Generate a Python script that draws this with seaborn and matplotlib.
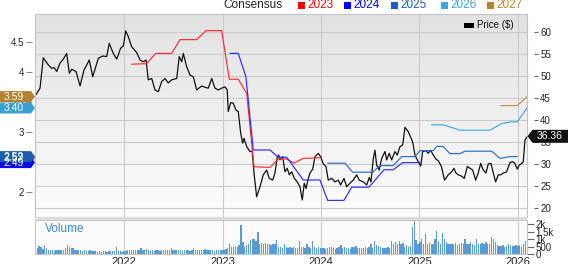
import numpy as np
import pandas as pd
import matplotlib
matplotlib.use("Agg")
import matplotlib.pyplot as plt
import seaborn as sns
from matplotlib.patches import Polygon, Rectangle
from matplotlib.colors import LinearSegmentedColormap
from matplotlib.ticker import FuncFormatter

sns.set_theme(style="white")
plt.rcParams["font.family"] = ["Liberation Sans", "DejaVu Sans"]

# ---------------- data (decimal years) ----------------
price_t = [2021.102, 2021.143, 2021.176, 2021.227, 2021.262, 2021.285, 2021.313, 2021.346, 2021.380, 2021.414,
           2021.441, 2021.465, 2021.509, 2021.550, 2021.590, 2021.644, 2021.679, 2021.736, 2021.780, 2021.821,
           2021.847, 2021.888, 2021.923, 2021.963, 2021.990, 2022.014, 2022.041, 2022.075, 2022.126, 2022.160,
           2022.193, 2022.221, 2022.244, 2022.279, 2022.312, 2022.346, 2022.380, 2022.414, 2022.447, 2022.482,
           2022.533, 2022.559, 2022.584, 2022.600, 2022.634, 2022.668, 2022.702, 2022.736, 2022.787, 2022.821,
           2022.854, 2022.889, 2022.922, 2022.956, 2022.990, 2023.024, 2023.047, 2023.057, 2023.082, 2023.108,
           2023.136, 2023.159, 2023.184, 2023.204, 2023.217, 2023.245, 2023.278, 2023.301, 2023.319, 2023.346,
           2023.380, 2023.413, 2023.448, 2023.474, 2023.509, 2023.532, 2023.556, 2023.570, 2023.583, 2023.611,
           2023.634, 2023.657, 2023.678, 2023.702, 2023.729, 2023.759, 2023.786, 2023.810, 2023.830, 2023.848,
           2023.871, 2023.888, 2023.916, 2023.939, 2023.973, 2023.997, 2024.023, 2024.051, 2024.074, 2024.109,
           2024.142, 2024.176, 2024.200, 2024.234, 2024.261, 2024.295, 2024.328, 2024.363, 2024.389, 2024.430,
           2024.465, 2024.491, 2024.508, 2024.532, 2024.549, 2024.566, 2024.593, 2024.617, 2024.651, 2024.668,
           2024.694, 2024.719, 2024.752, 2024.776, 2024.803, 2024.831, 2024.854, 2024.888, 2024.932, 2024.956,
           2024.979, 2025.014, 2025.034, 2025.068, 2025.091, 2025.115, 2025.142, 2025.169, 2025.193, 2025.225,
           2025.256, 2025.294, 2025.329, 2025.352, 2025.373, 2025.396, 2025.430, 2025.457, 2025.488, 2025.515,
           2025.542, 2025.573, 2025.599, 2025.624, 2025.650, 2025.678, 2025.701, 2025.729, 2025.752, 2025.776,
           2025.803, 2025.827, 2025.854, 2025.888, 2025.922, 2025.949, 2025.972, 2025.996, 2026.016, 2026.041,
           2026.057, 2026.074, 2026.098]
price_v = [45.8, 47.3, 54.2, 52.6, 51.8, 52.0, 51.1, 53.0, 53.9, 55.2,
           50.7, 51.6, 51.1, 47.8, 51.4, 53.7, 49.9, 54.1, 54.6, 54.5,
           57.5, 55.2, 53.9, 56.4, 56.9, 60.3, 59.0, 56.7, 55.4, 53.7,
           53.3, 53.7, 49.2, 49.5, 46.9, 46.5, 48.8, 49.5, 48.5, 49.2,
           49.5, 54.5, 53.3, 55.2, 52.2, 50.3, 49.9, 46.9, 47.8, 47.5,
           47.3, 49.5, 47.3, 46.9, 47.3, 47.6, 46.9, 42.0, 44.0, 43.9,
           42.3, 42.0, 37.0, 34.8, 35.9, 34.0, 32.9, 32.9, 28.0, 22.6,
           24.9, 27.6, 28.7, 26.8, 26.4, 28.0, 31.7, 32.1, 31.0, 31.7,
           28.3, 29.1, 27.6, 28.3, 26.8, 26.0, 24.9, 21.9, 25.7, 24.5,
           26.8, 28.0, 28.9, 31.7, 32.5, 31.7, 30.1, 29.5, 26.4, 26.8,
           26.0, 26.4, 25.3, 26.8, 24.9, 25.7, 26.4, 27.6, 26.4, 26.0,
           25.3, 27.0, 26.0, 31.3, 33.2, 29.8, 28.7, 31.3, 32.9, 31.0,
           32.5, 31.0, 32.9, 32.1, 34.0, 34.4, 38.4, 37.4, 35.1, 32.1,
           31.0, 29.6, 32.9, 33.1, 32.5, 33.2, 32.1, 31.2, 30.8, 29.5,
           26.4, 27.6, 28.3, 29.1, 28.0, 27.6, 27.3, 26.8, 29.5, 29.1,
           28.7, 26.4, 28.0, 30.2, 28.7, 28.0, 30.1, 30.2, 28.0, 26.0,
           27.6, 27.6, 28.0, 28.3, 30.4, 30.6, 30.2, 28.9, 29.8, 30.2,
           30.6, 35.5, 36.36]

cons_2023_t = [2022.075, 2022.228, 2022.319, 2022.482, 2022.566, 2022.736, 2022.831, 2022.990, 2023.068,
               2023.159, 2023.245, 2023.319, 2023.481, 2023.566, 2023.651, 2023.725, 2023.820, 2023.990]
cons_2023_v = [4.13, 4.14, 4.31, 4.31, 4.54, 4.54, 4.69, 4.69, 3.88,
               3.88, 3.64, 2.42, 2.41, 2.55, 2.55, 2.48, 2.56, 2.57]
cons_2024_t = [2023.075, 2023.159, 2023.237, 2023.312, 2023.481, 2023.566, 2023.651, 2023.820, 2023.990,
               2024.068, 2024.234, 2024.312, 2024.488, 2024.641, 2024.735, 2024.831, 2025.007]
cons_2024_v = [4.31, 4.31, 3.92, 2.70, 2.70, 2.58, 2.58, 2.20, 2.20,
               1.86, 1.86, 2.08, 2.08, 2.37, 2.37, 2.49, 2.49]
cons_2025_t = [2024.068, 2024.244, 2024.322, 2024.526, 2024.600, 2024.735, 2024.821, 2024.956, 2025.007,
               2025.142, 2025.179, 2025.240, 2025.312, 2025.414, 2025.465, 2025.736, 2025.820, 2025.922, 2025.996]
cons_2025_v = [2.48, 2.48, 2.33, 2.33, 2.44, 2.44, 2.59, 2.59, 2.69,
               2.69, 2.76, 2.76, 2.64, 2.64, 2.68, 2.68, 2.56, 2.59, 2.59]
cons_2026_t = [2025.125, 2025.244, 2025.414, 2025.719, 2025.838, 2025.939, 2025.996, 2026.095]
cons_2026_v = [3.12, 3.12, 3.03, 3.03, 3.14, 3.17, 3.17, 3.40]
cons_2027_t = [2025.827, 2025.996, 2026.098]
cons_2027_v = [3.44, 3.44, 3.59]

vol_2021 = [380, 520, 450, 360, 600, 400, 300, 250, 280, 230, 260, 250, 280, 240, 300, 420, 640, 500, 380, 420,
            300, 260, 240, 250, 230, 280, 220, 230, 250, 180, 200, 170, 160, 190, 150, 170, 200, 160, 180, 220,
            170, 190, 450, 200, 230, 160, 180]
vol_2022 = [220, 260, 300, 280, 250, 300, 280, 240, 380, 300, 260, 350, 240, 220, 260, 230, 250, 280, 230, 260,
            300, 270, 240, 250, 380, 300, 260, 240, 280, 250, 230, 260, 240, 300, 230, 250, 420, 300, 260, 250,
            280, 300, 350, 260, 300, 280, 250, 230, 300, 260, 240, 280]
vol_2023 = [300, 350, 400, 650, 450, 500, 550, 480, 600, 1930, 840, 500, 600, 700, 950, 1000, 1020, 900, 1480, 700,
            730, 680, 750, 700, 650, 600, 700, 650, 950, 500, 450, 400, 700, 450, 420, 500, 400, 450, 380, 420,
            900, 450, 500, 400, 700, 450, 420, 860, 450, 400, 500, 420]
vol_2024 = [400, 380, 350, 420, 500, 450, 400, 350, 420, 450, 640, 420, 450, 400, 380, 350, 450, 500, 570, 400,
            420, 380, 400, 450, 400, 500, 680, 420, 900, 600, 550, 450, 400, 380, 420, 500, 400, 860, 700, 800,
            650, 900, 680, 750, 500, 600, 450, 550, 1860, 2200, 950, 700]
vol_2025 = [800, 1020, 700, 1320, 680, 750, 650, 700, 1000, 1550, 900, 700, 1410, 1020, 800, 700, 680, 650, 700, 750,
            600, 680, 720, 650, 1020, 700, 650, 800, 680, 600, 1020, 700, 650, 750, 680, 800, 700, 650, 1180, 1020,
            800, 600, 570, 550, 600, 500, 550, 680, 600, 520, 570, 600]
vol_2026 = [570, 620, 500, 650, 900]
vol_first_week = "2021-02-12"

years = [2022, 2023, 2024, 2025, 2026]
price_ticks = [20, 25, 30, 35, 40, 45, 50, 55, 60]
eps_ticks = [2, 2.5, 3, 3.5, 4, 4.5]
vol_ticks = [0, 500, 1000, 1500, 2000]
vol_tick_labels = ["0", "500", "1k", "1.5k", "2k"]
series_names = ["2023", "2024", "2025", "2026", "2027"]

# ---------------- derived ----------------
vol = vol_2021 + vol_2022 + vol_2023 + vol_2024 + vol_2025 + vol_2026
wk = pd.date_range(vol_first_week, periods=len(vol), freq="7D")
vol_t = (wk.year + (wk.dayofyear - 1) / np.where(wk.is_leap_year, 366.0, 365.0)).to_numpy()

line_cols = ["#ff2b2b", "#2b2bff", "#2a6cc0", "#45a9da", "#c39250"]
box_cols = ["#f01818", "#0b0be8", "#1d5dae", "#39a0d2", "#b5822f"]
leg_cols = ["#ff0000", "#0000ff", "#1f5fb0", "#3da5d9", "#b5822f"]
cons = [(cons_2023_t, cons_2023_v), (cons_2024_t, cons_2024_v), (cons_2025_t, cons_2025_v),
        (cons_2026_t, cons_2026_v), (cons_2027_t, cons_2027_v)]

# ---------------- figure ----------------
W, H = 568, 264
fig = plt.figure(figsize=(W / 100, H / 100), dpi=100)


def fbox(l, t, r, b):
    return [l / W, 1 - b / H, (r - l) / W, (b - t) / H]


XMIN, XMAX = 2021.092, 2026.095
ax = fig.add_axes(fbox(35, 14, 527, 217))
axl = ax.twinx()
axv = fig.add_axes(fbox(35, 220, 527, 254))

# background gradient
grad = np.linspace(0, 1, 256).reshape(-1, 1)
cmap = LinearSegmentedColormap.from_list("g", ["#e2e2e2", "#fdfdfd"])
ax.imshow(grad, cmap=cmap, extent=(0, 1, 0, 1), transform=ax.transAxes,
          aspect="auto", zorder=0, interpolation="bilinear")

# price line (right axis)
sns.lineplot(x=price_t, y=price_v, ax=ax, color="#111111", linewidth=0.9, zorder=3)
ax.set_xlim(XMIN, XMAX)
ax.set_ylim(18.02, 64.16)
ax.yaxis.tick_right()
ax.set_yticks(price_ticks)
ax.set_xticks(years)
ax.set_xticklabels([])
ax.tick_params(axis="x", length=0, bottom=False)
ax.tick_params(axis="y", right=True, left=False, length=3, width=0.8, color="#666666",
               pad=1.5, labelsize=7, labelcolor="#222222")
ax.spines["right"].set_position(("outward", 5))
for s in ax.spines.values():
    s.set_visible(False)
ax.grid(True, color="#cbcbcb", linewidth=0.8)
ax.set_xlabel("")
ax.set_ylabel("")
ax.add_patch(Rectangle((0, 0), 1, 1, transform=ax.transAxes, fill=False,
                       ec="#c4c4c4", lw=0.8, zorder=5, clip_on=False))

# consensus lines (left axis)
for (t, v), c in zip(cons, line_cols):
    sns.lineplot(x=t, y=v, ax=axl, color=c, linewidth=0.85)
axl.set_xlim(XMIN, XMAX)
axl.set_ylim(1.583, 4.967)
axl.yaxis.set_ticks_position("left")
axl.set_yticks(eps_ticks)
axl.yaxis.set_major_formatter(FuncFormatter(lambda v, p: f"{v:g}"))
axl.spines["left"].set_position(("outward", 2))
for s in axl.spines.values():
    s.set_visible(False)
axl.tick_params(axis="y", left=True, right=False, labelleft=True, labelright=False,
                length=4, width=0.8, color="#888888", pad=2, labelsize=7, labelcolor="#222222")
axl.grid(False)
axl.set_ylabel("")

# volume
axv.bar(vol_t, vol, width=0.0135, color="#5b9bd5", linewidth=0, zorder=2)
axv.set_xlim(XMIN, XMAX)
axv.set_ylim(0, 2300)
axv.set_facecolor("#fbfbfb")
axv.yaxis.tick_right()
axv.set_yticks(vol_ticks)
axv.set_yticklabels(vol_tick_labels)
axv.tick_params(axis="y", right=True, left=False, length=5, width=0.8, color="#666666",
                pad=1, labelsize=7, labelcolor="#222222")
axv.set_xticks(years)
axv.set_xticklabels([str(y) for y in years])
axv.tick_params(axis="x", length=0, pad=2, labelsize=8, labelcolor="#222222")
axv.grid(axis="x", color="#cbcbcb", linewidth=0.8)
axv.set_axisbelow(True)
for s in axv.spines.values():
    s.set_visible(False)
axv.add_patch(Rectangle((0, 0), 1, 1, transform=axv.transAxes, fill=False,
                        ec="#c4c4c4", lw=0.8, zorder=5, clip_on=False))
fig.text(45 / W, 1 - 229.5 / H, "Volume", color="#3a8ad0", fontsize=8.5, va="center", ha="left")

# separator band
fig.add_artist(Rectangle((35 / W, 1 - 220 / H), 492 / W, 3 / H, transform=fig.transFigure,
                         color="#dcdcdc", lw=0))

# top legend
fig.text(223 / W, 1 - 5.5 / H, "Consensus", fontsize=8.5, va="center", ha="left", color="#222222")
for name, c, x0 in zip(series_names, leg_cols, [298, 344, 391, 441, 487]):
    fig.add_artist(Rectangle((x0 / W, 1 - 9 / H), 7 / W, 7 / H, transform=fig.transFigure, color=c, lw=0))
    fig.text((x0 + 9) / W, 1 - 5.5 / H, name, fontsize=8.5, va="center", ha="left", color=c)

# price legend inside plot
fig.add_artist(Rectangle((464 / W, 1 - 27.5 / H), 10 / W, 5 / H, transform=fig.transFigure,
                         color="black", lw=0))
fig.text(477 / W, 1 - 25.5 / H, "Price ($)", fontsize=7, va="center", ha="left", color="#111111")

# left value tags
for (t, v), c in zip(cons, box_cols):
    yc = axl.transData.transform((XMIN, v[-1]))[1]
    pts = [(0, yc - 5.5), (31, yc - 5.5), (35, yc), (31, yc + 5.5), (0, yc + 5.5)]
    fig.add_artist(Polygon([(px / W, py / H) for px, py in pts], closed=True,
                           transform=fig.transFigure, color=c, lw=0))
    fig.text(3.5 / W, yc / H, f"{v[-1]:.2f}", fontsize=7.5, color="white", va="center", ha="left")

# right price tag
yc = ax.transData.transform((XMAX, price_v[-1]))[1]
pts = [(527.5, yc), (532.5, yc + 6.5), (568, yc + 6.5), (568, yc - 6.5), (532.5, yc - 6.5)]
fig.add_artist(Polygon([(px / W, py / H) for px, py in pts], closed=True,
                       transform=fig.transFigure, color="#111111", lw=0))
fig.text(549.5 / W, yc / H, f"{price_v[-1]:.2f}", fontsize=7.5, color="white", va="center", ha="center")

fig.savefig("out.png", dpi=100)
